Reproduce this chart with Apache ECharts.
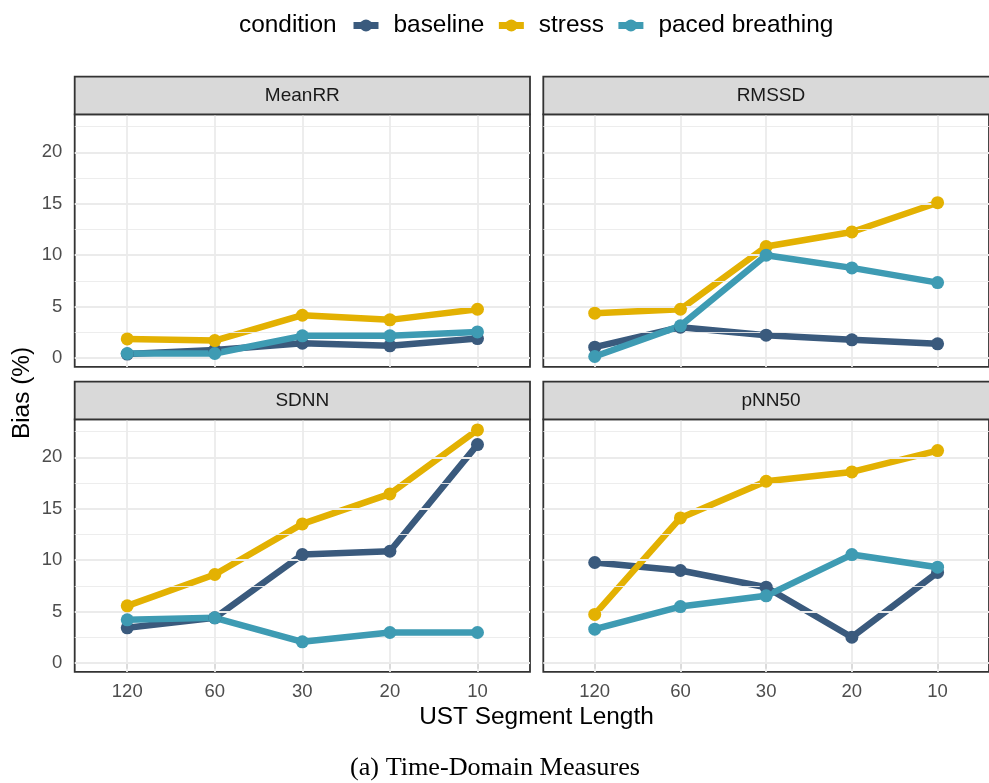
<!DOCTYPE html>
<html>
<head>
<meta charset="utf-8">
<script src="https://cdn.jsdelivr.net/npm/echarts@6/dist/echarts.min.js"></script>
<style>
  html, body { margin: 0; padding: 0; background: #ffffff; }
  #chart { width: 989px; height: 783px; }
</style>
</head>
<body>
<div id="chart"></div>
<script>
// ---------- data ----------
const segments = ['120', '60', '30', '20', '10'];
const conditions = ['baseline', 'stress', 'paced breathing'];
const measures = ['MeanRR', 'RMSSD', 'SDNN', 'pNN50'];
const yTicks = [0, 5, 10, 15, 20];
const yMinorGrid = [2.5, 7.5, 12.5, 17.5, 22.5];

const meanRRBaseline = [0.40, 0.80, 1.45, 1.20, 1.90];
const meanRRStress   = [1.87, 1.71, 4.17, 3.72, 4.75];
const meanRRPaced    = [0.45, 0.45, 2.17, 2.17, 2.55];

const rmssdBaseline = [1.07, 3.00, 2.23, 1.78, 1.39];
const rmssdStress   = [4.37, 4.75, 10.84, 12.26, 15.10];
const rmssdPaced    = [0.16, 3.14, 10.00, 8.77, 7.34];

const sdnnBaseline = [3.43, 4.40, 10.55, 10.87, 21.23];
const sdnnStress   = [5.57, 8.61, 13.53, 16.44, 22.66];
const sdnnPaced    = [4.21, 4.40, 2.07, 2.98, 2.98];

const pnn50Baseline = [9.78, 9.00, 7.38, 2.52, 8.81];
const pnn50Stress   = [4.73, 14.11, 17.67, 18.58, 20.65];
const pnn50Paced    = [3.30, 5.50, 6.54, 10.55, 9.32];

const panelValues = [
  [meanRRBaseline, meanRRStress, meanRRPaced],
  [rmssdBaseline, rmssdStress, rmssdPaced],
  [sdnnBaseline, sdnnStress, sdnnPaced],
  [pnn50Baseline, pnn50Stress, pnn50Paced]
];

// ---------- styles / layout ----------
const palette = ['#3A5A7D', '#E3B102', '#3E9BB3'];
const FONT = '"Liberation Sans", Arial, Helvetica, sans-serif';
const panelW = 455.3, panelH = 252.6;
const lefts = [74.7, 543.3, 74.7, 543.3];
const tops = [114.3, 114.3, 419.3, 419.3];
const stripH = 37.6;
const Y_MIN = -0.85, Y_MAX = 23.69;
const X_MIN = -0.6, X_MAX = segments.length - 1 + 0.6;

const grids = [], xAxes = [], yAxes = [], series = [], graphics = [];

for (let p = 0; p < 4; p++) {
  const isBottom = p >= 2, isLeft = p % 2 === 0;
  grids.push({
    left: lefts[p], top: tops[p], width: panelW, height: panelH,
    show: true, backgroundColor: '#FFFFFF', borderColor: '#333333', borderWidth: 1.8,
    containLabel: false
  });
  const catIdx = segments.map((_, i) => i);
  xAxes.push({
    type: 'value', gridIndex: p, min: X_MIN, max: X_MAX,
    axisLine: { show: false },
    splitLine: { show: false },
    axisTick: { show: isBottom, customValues: catIdx, length: 5.5, lineStyle: { color: '#333333', width: 1.8 } },
    axisLabel: {
      show: isBottom, customValues: catIdx, margin: 11,
      formatter: v => segments[Math.round(v)] || '',
      color: '#4D4D4D', fontSize: 18.5, fontFamily: FONT
    }
  });
  yAxes.push({
    type: 'value', gridIndex: p, min: Y_MIN, max: Y_MAX,
    axisLine: { show: false },
    splitLine: { show: false },
    axisTick: { show: isLeft, customValues: yTicks, length: 5.5, lineStyle: { color: '#333333', width: 1.8 } },
    axisLabel: {
      show: isLeft, customValues: yTicks, margin: 12.4,
      color: '#4D4D4D', fontSize: 18.5, fontFamily: FONT
    }
  });

  // gridlines via markLine
  const ml = [];
  yMinorGrid.forEach(v => ml.push({ yAxis: v, lineStyle: { color: '#EBEBEB', width: 0.9, type: 'solid' } }));
  yTicks.forEach(v => ml.push({ yAxis: v, lineStyle: { color: '#EBEBEB', width: 1.8, type: 'solid' } }));
  catIdx.forEach(v => ml.push({ xAxis: v, lineStyle: { color: '#EBEBEB', width: 1.8, type: 'solid' } }));
  series.push({
    type: 'line', name: '_grid' + p, xAxisIndex: p, yAxisIndex: p, data: [],
    silent: true, z: 1,
    markLine: { silent: true, symbol: ['none', 'none'], label: { show: false }, data: ml, animation: false, emphasis: { disabled: true } }
  });

  // lines
  for (let c = 0; c < conditions.length; c++) {
    series.push({
      type: 'line', name: conditions[c], xAxisIndex: p, yAxisIndex: p,
      data: panelValues[p][c].map((v, i) => [i, v]),
      symbol: 'circle', symbolSize: 13, showSymbol: false,
      lineStyle: { color: palette[c], width: 6.5, join: 'round' },
      itemStyle: { color: palette[c] },
      z: 3 + c, silent: true
    });
  }
  // points
  for (let c = 0; c < conditions.length; c++) {
    series.push({
      type: 'scatter', name: conditions[c], xAxisIndex: p, yAxisIndex: p,
      data: panelValues[p][c].map((v, i) => [i, v]),
      symbol: 'circle', symbolSize: 13,
      itemStyle: { color: palette[c], opacity: 1 },
      z: 10 + c, silent: true
    });
  }

  // strip
  graphics.push({
    type: 'rect', silent: true, z: 100,
    shape: { x: lefts[p], y: tops[p] - stripH, width: panelW, height: stripH },
    style: { fill: '#D9D9D9', stroke: '#333333', lineWidth: 1.8 }
  });
  graphics.push({
    type: 'text', silent: true, z: 101,
    x: lefts[p] + panelW / 2, y: tops[p] - stripH / 2,
    style: { text: measures[p], fill: '#1A1A1A', font: '19px ' + FONT, textAlign: 'center', textVerticalAlign: 'middle' }
  });
}

graphics.push({
  type: 'text', silent: true, x: 239, y: 25,
  style: { text: 'condition', fill: '#000000', font: '24.4px ' + FONT, textAlign: 'left', textVerticalAlign: 'middle' }
});
graphics.push({
  type: 'text', silent: true, x: 536.5, y: 717.5,
  style: { text: 'UST Segment Length', fill: '#000000', font: '24.4px ' + FONT, textAlign: 'center', textVerticalAlign: 'middle' }
});
graphics.push({
  type: 'text', silent: true, x: 22, y: 393, rotation: Math.PI / 2,
  style: { text: 'Bias (%)', fill: '#000000', font: '24.4px ' + FONT, textAlign: 'center', textVerticalAlign: 'middle' }
});
graphics.push({
  type: 'text', silent: true, x: 495, y: 768,
  style: { text: '(a) Time-Domain Measures', fill: '#000000', font: '26.2px "Liberation Serif", "DejaVu Serif", serif', textAlign: 'center', textVerticalAlign: 'middle' }
});

const chart = echarts.init(document.getElementById('chart'), null, { renderer: 'canvas' });
chart.setOption({
  animation: false,
  backgroundColor: '#FFFFFF',
  grid: grids,
  xAxis: xAxes,
  yAxis: yAxes,
  legend: {
    data: conditions,
    left: 350, top: 13.5, padding: 0,
    itemWidth: 25, itemHeight: 15, itemGap: 11,
    selectedMode: false,
    lineStyle: { width: 7 },
    textStyle: { fontSize: 24.4, fontFamily: FONT, color: '#000000', padding: [0, 0, 0, 10] }
  },
  series: series,
  graphic: graphics
});
</script>
</body>
</html>
